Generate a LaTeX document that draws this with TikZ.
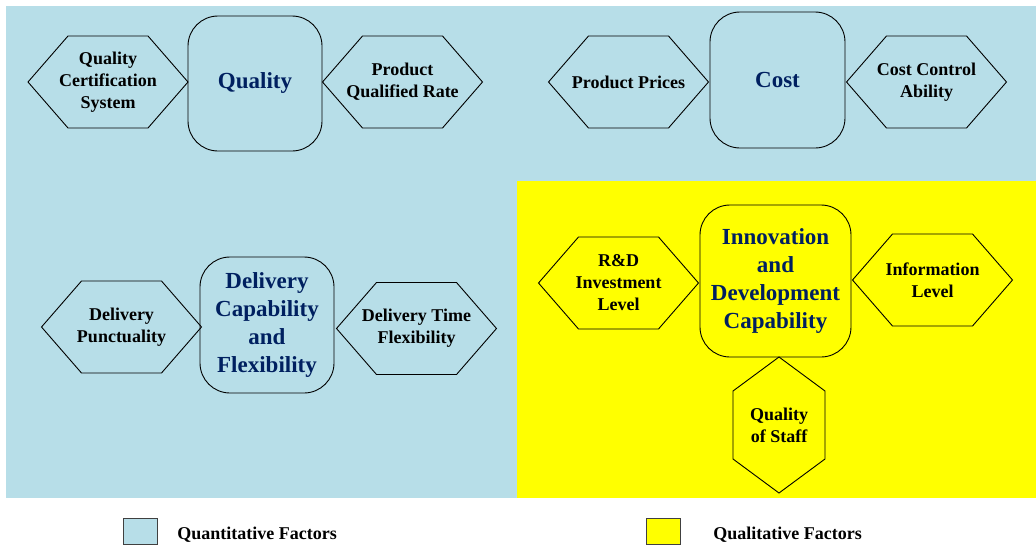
\documentclass[tikz,border=0pt]{standalone}
\usepackage{fontspec}
\setmainfont{Liberation Serif}

\definecolor{quantblue}{RGB}{183,222,232}
\definecolor{qualyellow}{RGB}{255,255,0}
\definecolor{factornavy}{RGB}{0,32,96}

% hexagon lying on its side: name, centre, text
\newcommand{\hexa}[3]{%
  \node[hexlabel] (#1) at (#2) {#3};
  \draw[hexline] ([shift={(-80,0)}]#1.center) -- ([shift={(-40,-46)}]#1.center)
    -- ([shift={(40,-46)}]#1.center) -- ([shift={(80,0)}]#1.center)
    -- ([shift={(40,46)}]#1.center) -- ([shift={(-40,46)}]#1.center) -- cycle;
}

\begin{document}
\begin{tikzpicture}[x=1pt, y=-1pt, every node/.style={align=center, inner sep=0pt}, line width=0.9pt]

\tikzstyle{factor}=[draw, rounded corners=30pt, minimum width=134pt, minimum height=135pt, text=factornavy, font=\bfseries\fontsize{23}{28}\selectfont]
\tikzstyle{hexlabel}=[font=\bfseries\fontsize{18}{22}\selectfont]
\tikzstyle{hexline}=[draw, line width=0.9pt]
\tikzstyle{legendbox}=[draw=black!75, minimum width=34pt, minimum height=26pt]
\tikzstyle{legendtext}=[anchor=base west, font=\bfseries\fontsize{18}{22}\selectfont]

\useasboundingbox (0,0) rectangle (1036,546);

% background areas
\fill[quantblue] (6,6) rectangle (1036,498);
\fill[qualyellow] (517,181) rectangle (1036,498);

% quality
\node[factor] (quality) at (255,83.5) {Quality};
\hexa{qcs}{108,82}{Quality\\Certification\\System}
\hexa{pqr}{402.5,82}{Product\\Qualified Rate}

% cost
\node[factor, minimum width=135pt, minimum height=136pt] (cost) at (777.5,80) {Cost};
\hexa{prices}{628.5,82}{Product Prices}
\hexa{costctrl}{926.5,82}{Cost Control\\Ability}

% delivery
\node[factor, minimum height=136pt] (delivery) at (267,325) {Delivery\\Capability\\and\\Flexibility};
\hexa{punct}{121.5,327}{Delivery\\Punctuality}
\hexa{deltime}{416.5,328.5}{Delivery Time\\Flexibility}

% innovation
\node[factor, minimum width=151pt, minimum height=152pt] (innov) at (775.5,281) {Innovation\\and\\Development\\Capability};
\hexa{rnd}{618.5,283}{R\&D\\Investment\\Level}
\hexa{info}{932.5,280}{Information\\Level}
\node[hexlabel] (staff) at (779,425) {Quality\\of Staff};
\draw[hexline] ([shift={(0,-68)}]staff.center) -- ([shift={(46,-34)}]staff.center)
  -- ([shift={(46,34)}]staff.center) -- ([shift={(0,68)}]staff.center)
  -- ([shift={(-46,34)}]staff.center) -- ([shift={(-46,-34)}]staff.center) -- cycle;

% legend
\node[legendbox, fill=quantblue] (quantkey) at (140.5,531) {};
\node[legendtext] (quanttext) at (177,539) {Quantitative Factors};
\node[legendbox, fill=qualyellow] (qualkey) at (663,531) {};
\node[legendtext] (qualtext) at (713,539) {Qualitative Factors};
\end{tikzpicture}
\end{document}
